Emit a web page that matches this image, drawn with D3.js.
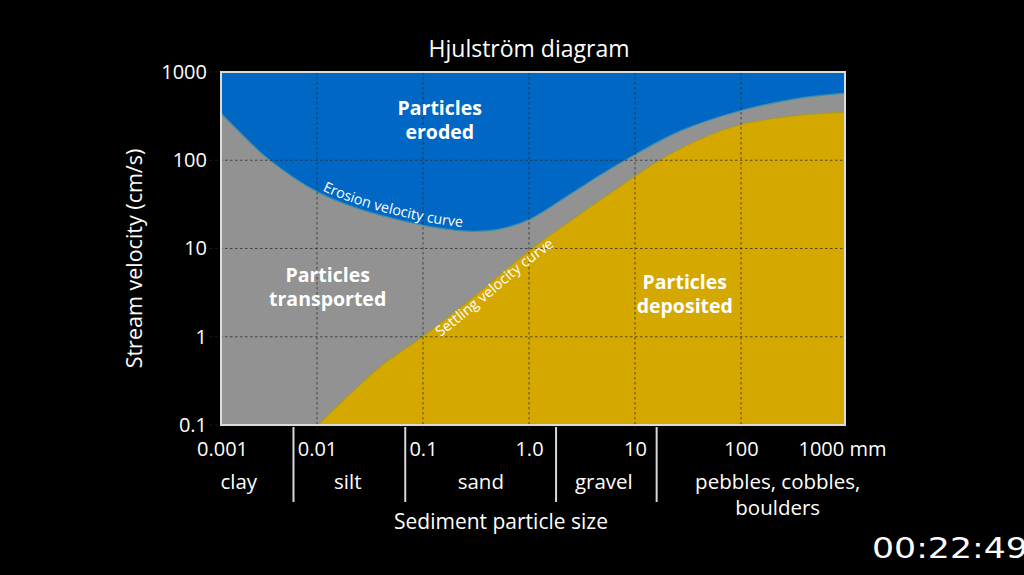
<!DOCTYPE html>
<html><head><meta charset="utf-8">
<script src="https://cdn.jsdelivr.net/npm/d3@7"></script>
<style>
html,body{margin:0;padding:0;background:#000;}
svg{display:block;}
text{font-family:"Open Sans",sans-serif;fill:#fff;}
</style></head><body>
<svg id="chart" width="1024" height="575"></svg>
<script>
// ---------- data ----------
const titleText = "Hjulström diagram";
const xTicks = [0.001, 0.01, 0.1, 1, 10, 100, 1000];
const xTickLabels = ["0.001", "0.01", "0.1", "1.0", "10", "100", "1000 mm"];
const yTicks = [0.1, 1, 10, 100, 1000];
const yTickLabels = ["0.1", "1", "10", "100", "1000"];

// erosion velocity curve (particle size mm, velocity cm/s)
const erosionSize = [0.00124, 0.00179, 0.00342, 0.0102, 0.0254, 0.0604, 0.144, 0.276, 0.53, 1.02, 2.08, 4.66, 9.75, 26.5, 102, 359, 953];
const erosionVel  = [341, 219, 105, 43.5, 27.9, 21.0, 17.0, 15.7, 16.6, 21.5, 36.3, 67.8, 114, 214, 369, 506, 576];

// settling velocity curve
const settlingSize = [0.0102, 0.0191, 0.039, 0.0975, 0.276, 1.02, 2.43, 4.66, 9.75, 16.4, 40.8, 102, 360, 953];
const settlingVel  = [0.1, 0.207, 0.454, 0.99, 2.61, 9.6, 20.4, 35.3, 64.4, 97.7, 173, 256, 324, 351];

// sediment classes
const classBounds = [0.006, 0.068, 1.8, 16];
const classNames = [["clay"], ["silt"], ["sand"], ["gravel"], ["pebbles, cobbles,", "boulders"]];
const classLabelAt = [0.00183, 0.0195, 0.351, 5.08, 222];

// region labels
const regionNames = [["Particles", "eroded"], ["Particles", "transported"], ["Particles", "deposited"]];
const regionSize = [0.144, 0.0126, 29.5];
const regionVel = [285, 3.65, 3.05];

const xAxisTitle = "Sediment particle size";
const yAxisTitle = "Stream velocity (cm/s)";
const timestamp = "00:22:49";

// ---------- layout ----------
const box = {left: 221, right: 845, top: 72, bottom: 425};
const colors = {blue: "#0067c4", gray: "#929292", yellow: "#d5a800", grid: "#2a2a2a", border: "#dcdcdc"};

const svg = d3.select("#chart");
svg.append("rect").attr("width", 1024).attr("height", 575).attr("fill", "#000");

const x = d3.scaleLog().domain([0.001, 1000]).range([211, 847]);
const y = d3.scaleLog().domain([0.1, 1000]).range([box.bottom, box.top]);

const defs = svg.append("defs");
defs.append("clipPath").attr("id", "clip").append("rect")
  .attr("x", box.left).attr("y", box.top)
  .attr("width", box.right - box.left).attr("height", box.bottom - box.top);

const erosion = erosionSize.map((s, i) => [s, erosionVel[i]]);
const settling = settlingSize.map((s, i) => [s, settlingVel[i]]);

const curve = d3.curveCatmullRom.alpha(0.5);

const plot = svg.append("g").attr("clip-path", "url(#clip)");
plot.append("rect").attr("x", box.left).attr("y", box.top)
  .attr("width", box.right - box.left).attr("height", box.bottom - box.top)
  .attr("fill", colors.blue);

const area = d3.area().x(d => x(d[0])).y0(box.bottom + 5).y1(d => y(d[1])).curve(curve);
const line = d3.line().x(d => x(d[0])).y(d => y(d[1])).curve(curve);

plot.append("path").attr("d", area(erosion)).attr("fill", colors.gray);
plot.append("path").attr("d", line(erosion)).attr("fill", "none").attr("stroke", "#3d8fa8").attr("stroke-width", 1.2);
plot.append("path").attr("d", area(settling)).attr("fill", colors.yellow);
plot.append("path").attr("d", line(settling)).attr("fill", "none").attr("stroke", "#a99a30").attr("stroke-width", 1.2);

// gridlines
const grid = svg.append("g").attr("stroke", colors.grid).attr("stroke-opacity", 0.75)
  .attr("stroke-dasharray", "2.5,2.5").attr("stroke-width", 1);
grid.selectAll("line.h").data(yTicks).join("line")
  .attr("x1", box.left - 11).attr("x2", box.right)
  .attr("y1", d => y(d)).attr("y2", d => y(d));
grid.selectAll("line.v").data(xTicks.filter(d => x(d) > box.left && x(d) <= box.right + 3)).join("line")
  .attr("x1", d => Math.min(x(d), box.right)).attr("x2", d => Math.min(x(d), box.right))
  .attr("y1", box.top).attr("y2", box.bottom + 6);

// border
svg.append("rect").attr("x", box.left).attr("y", box.top)
  .attr("width", box.right - box.left).attr("height", box.bottom - box.top)
  .attr("fill", "none").attr("stroke", colors.border).attr("stroke-width", 2);

// y axis labels
const yAxis = d3.axisLeft(y).tickValues(yTicks).tickSize(0).tickPadding(0)
  .tickFormat((d, i) => yTickLabels[i]);
const gy = svg.append("g").attr("transform", `translate(${box.left - 14},0)`).call(yAxis);
gy.select(".domain").remove();
gy.selectAll("text").attr("font-size", 20).attr("fill", "#fff")
  .attr("font-family", "Open Sans, sans-serif");

// x axis labels
const xAxis = d3.axisBottom(x).tickValues(xTicks).tickSize(0).tickPadding(0)
  .tickFormat((d, i) => xTickLabels[i]);
const gx = svg.append("g").attr("transform", `translate(0,${box.bottom + 17})`).call(xAxis);
gx.select(".domain").remove();
gx.selectAll("text").attr("font-size", 20).attr("fill", "#fff")
  .attr("font-family", "Open Sans, sans-serif")
  .attr("text-anchor", (d, i) => i === xTicks.length - 1 ? "start" : "middle")
  .attr("dx", (d, i) => i === 0 ? 11 : (i === xTicks.length - 1 ? -49 : 0));

// class separators
svg.append("g").selectAll("line").data(classBounds).join("line")
  .attr("x1", d => x(d)).attr("x2", d => x(d))
  .attr("y1", box.bottom + 2).attr("y2", box.bottom + 77)
  .attr("stroke", "#d8d8d8").attr("stroke-width", 2);

// class labels
const cl = svg.append("g").selectAll("text").data(classNames).join("text")
  .attr("text-anchor", "middle").attr("font-size", 20.5)
  .attr("x", (d, i) => x(classLabelAt[i])).attr("y", box.bottom + 64);
cl.selectAll("tspan").data(d => d).join("tspan")
  .attr("x", function () { return d3.select(this.parentNode).attr("x"); })
  .attr("dy", (d, i) => i === 0 ? 0 : 26).text(d => d);

// axis titles
svg.append("text").attr("x", 501).attr("y", box.bottom + 104).attr("text-anchor", "middle")
  .attr("font-size", 21).text(xAxisTitle);
svg.append("text").attr("transform", `translate(${box.left - 87},${(box.top + box.bottom) / 2 + 10}) rotate(-90)`)
  .attr("text-anchor", "middle").attr("dy", "0.35em").attr("font-size", 21.5).text(yAxisTitle);

// title
svg.append("text").attr("x", 529).attr("y", 57).attr("text-anchor", "middle")
  .attr("font-size", 23).text(titleText);

// region labels (one text per line)
regionNames.forEach((lines, i) => {
  lines.forEach((t, j) => {
    svg.append("text").attr("text-anchor", "middle").attr("font-size", 19.5).attr("font-weight", 700)
      .attr("x", x(regionSize[i])).attr("y", y(regionVel[i]) - 5 + j * 24).text(t);
  });
});

// curve labels along the curves
function curveLabel(id, pts, dy, startX, txt, fs) {
  const gen = d3.line().x(d => x(d[0])).y(d => y(d[1]) + dy).curve(curve);
  const p = svg.append("path").attr("id", id).attr("d", gen(pts)).attr("fill", "none").attr("stroke", "none");
  const node = p.node();
  const L = node.getTotalLength();
  let s = 0;
  while (s < L && node.getPointAtLength(s).x < startX) s += 0.5;
  svg.append("text").attr("font-size", fs).append("textPath")
    .attr("href", "#" + id).attr("startOffset", s).text(txt);
}
curveLabel("erosionPath", erosion, -4, 322, "Erosion velocity curve", 14.4);
curveLabel("settlingPath", settling, 14, 440, "Settling velocity curve", 14.5);

// timestamp
svg.append("text").attr("transform", "translate(872,558) scale(1.24,1)")
  .attr("font-size", 28).style("font-family", "DejaVu Sans").text(timestamp);
</script>
</body></html>
